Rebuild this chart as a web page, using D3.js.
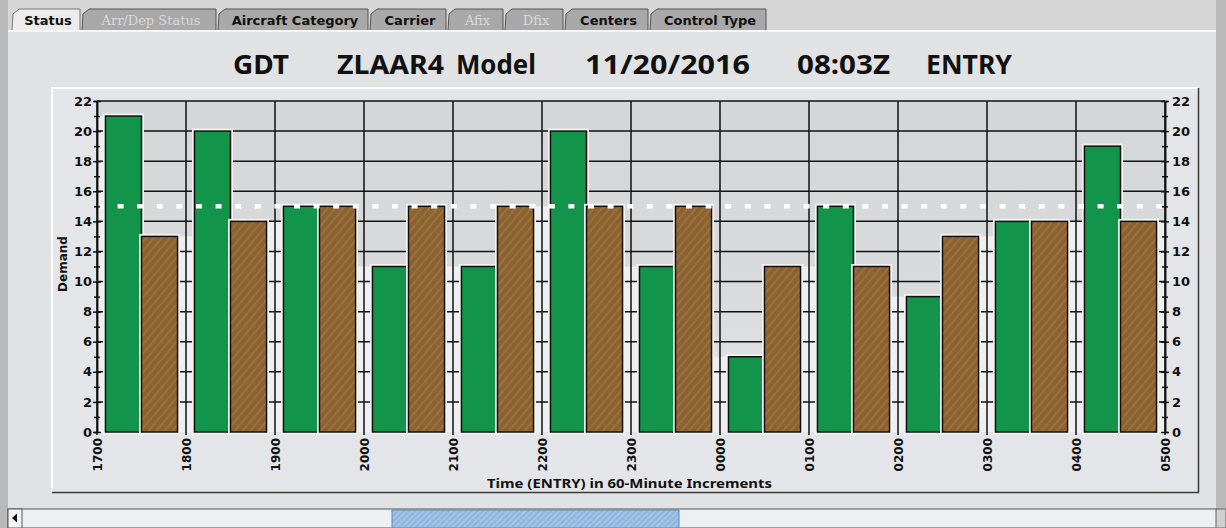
<!DOCTYPE html>
<html>
<head>
<meta charset="utf-8">
<script src="https://cdn.jsdelivr.net/npm/d3@7"></script>
<style>
  html, body { margin: 0; padding: 0; background: #c4c4c4; }
  svg { display: block; }
</style>
</head>
<body>
<div id="chart"></div>
<script>
// chart data
const hourLabels = ["1700","1800","1900","2000","2100","2200","2300","0000","0100","0200","0300","0400","0500"];
const periods = hourLabels.slice(0, 12);
const activeDemand = [21, 20, 15, 11, 11, 20, 11, 5, 15, 9, 14, 19];   // green
const proposedDemand = [13, 14, 15, 15, 15, 15, 15, 11, 11, 13, 14, 14]; // brown hatched
const capacity = 15;
const yTickValues = [0, 2, 4, 6, 8, 10, 12, 14, 16, 18, 20, 22];
const yMinorValues = [1, 3, 5, 7, 9, 11, 13, 15, 17, 19, 21];
const titleParts = ["GDT", "ZLAAR4", "Model", "11/20/2016", "08:03Z", "ENTRY"];
const tabNames = ["Status", "Arr/Dep Status", "Aircraft Category", "Carrier", "Afix", "Dfix", "Centers", "Control Type"];
const tabEnabled = [true, false, true, true, false, false, true, true];

const WIDTH = 1226, HEIGHT = 528;
const PLOT = { left: 97, right: 1165, top: 101, bottom: 432 };

let svg = d3.select("#chart").append("svg")
    .attr("width", WIDTH)
    .attr("height", HEIGHT);

const defs = svg.append("defs");
const hatch = defs.append("pattern")
    .attr("id", "hatch")
    .attr("patternUnits", "userSpaceOnUse")
    .attr("width", 6).attr("height", 6)
    .attr("patternTransform", "rotate(40)");
hatch.append("rect").attr("width", 6).attr("height", 6).attr("fill", "#8c6330");
hatch.append("rect").attr("width", 1.6).attr("height", 6).attr("fill", "#9c7442");

const thumbHatch = defs.append("pattern")
    .attr("id", "thumbHatch")
    .attr("patternUnits", "userSpaceOnUse")
    .attr("width", 4).attr("height", 4)
    .attr("patternTransform", "rotate(45)");
thumbHatch.append("rect").attr("width", 4).attr("height", 4).attr("fill", "#8fb5de");
thumbHatch.append("rect").attr("width", 1.5).attr("height", 4).attr("fill", "#a9c8ea");

const plotShade = defs.append("linearGradient")
    .attr("id", "plotShade")
    .attr("x1", 0).attr("y1", 0).attr("x2", 0).attr("y2", 1);
plotShade.append("stop").attr("offset", "0%").attr("stop-color", "#d5d6d7");
plotShade.append("stop").attr("offset", "55%").attr("stop-color", "#d9dadb");
plotShade.append("stop").attr("offset", "100%").attr("stop-color", "#e4e5e6");

// window background
svg.append("rect").attr("width", WIDTH).attr("height", HEIGHT).attr("fill", "#b9b9b9");
svg.append("rect").attr("x", 8).attr("y", 0).attr("width", 1208).attr("height", HEIGHT).attr("fill", "#d6d6d6");
svg.append("rect").attr("x", 8).attr("y", 31).attr("width", 1208).attr("height", 478).attr("fill", "#e1e2e3");
svg.append("line").attr("x1", 8).attr("x2", 1216).attr("y1", 31).attr("y2", 31)
    .attr("stroke", "#f6f6f6").attr("stroke-width", 2);

// tabs
const tabX = [12, 82, 218, 370, 448, 505, 565, 650, 768];
const tabs = svg.append("g").selectAll("g")
    .data(tabNames)
    .enter()
    .append("g");
tabs.append("path")
    .attr("d", (d, i) => {
        const x0 = tabX[i], x1 = tabX[i + 1] - 2;
        return `M${x0},30 L${x0 + 1},14 L${x0 + 7},9 L${x1},9 L${x1},30`;
    })
    .attr("fill", (d, i) => i === 0 ? "#ececec" : "#a8a8a8")
    .attr("stroke", (d, i) => i === 0 ? "#777" : "#555")
    .attr("stroke-width", 1);
tabs.append("text")
    .attr("x", (d, i) => (tabX[i] + tabX[i + 1]) / 2 + 1)
    .attr("y", 25)
    .attr("text-anchor", "middle")
    .attr("font-family", (d, i) => tabEnabled[i] ? "DejaVu Sans" : "DejaVu Serif")
    .attr("font-weight", (d, i) => tabEnabled[i] ? "bold" : "normal")
    .attr("font-size", "13px")
    .attr("fill", (d, i) => tabEnabled[i] ? "#111" : "#d9d9d9")
    .text(d => d);

// title
const titleX = [233, 337, 456, 585, 797, 926];
const titleW = [56, 107, 80, 165, 93, 86];
svg.append("g").selectAll("text")
    .data(titleParts)
    .enter()
    .append("text")
    .attr("x", (d, i) => titleX[i])
    .attr("y", 74)
    .attr("font-family", "Noto Sans, DejaVu Sans, sans-serif")
    .attr("font-weight", "bold")
    .attr("font-size", "27px")
    .attr("fill", "#111")
    .attr("textLength", (d, i) => titleW[i])
    .attr("lengthAdjust", "spacingAndGlyphs")
    .text(d => d);

// chart panel
svg.append("rect").attr("x", 52).attr("y", 88).attr("width", 1146).attr("height", 404)
    .attr("fill", "#e3e5e8");
svg.append("path").attr("d", "M52,492 L52,88 L1198,88")
    .attr("fill", "none").attr("stroke", "#fbfbfb").attr("stroke-width", 2);
svg.append("path").attr("d", "M52,492.5 L1198.5,492.5 L1198.5,88")
    .attr("fill", "none").attr("stroke", "#3a3a3a").attr("stroke-width", 1.5);

// scales
const x = d3.scalePoint().domain(hourLabels).range([PLOT.left, PLOT.right]);
const band = d3.scaleBand().domain(periods).range([PLOT.left, PLOT.right])
    .paddingInner(0.19).paddingOuter(0.095);
const sub = d3.scaleBand().domain(["active", "proposed"]).range([0, band.bandwidth()]);
const y = d3.scaleLinear().domain([0, 22]).range([PLOT.bottom, PLOT.top]);

const plot = svg.append("g");
plot.append("rect")
    .attr("x", PLOT.left).attr("y", PLOT.top)
    .attr("width", PLOT.right - PLOT.left).attr("height", PLOT.bottom - PLOT.top)
    .attr("fill", "url(#plotShade)");

// light strips between neighbouring bar groups
const gaps = hourLabels.map((h, i) => {
    const leftH = i > 0 ? proposedDemand[i - 1] : null;
    const rightH = i < periods.length ? activeDemand[i] : null;
    const x0 = i > 0 ? band(periods[i - 1]) + band.bandwidth() : PLOT.left;
    const x1 = i < periods.length ? band(periods[i]) : PLOT.right;
    const h0 = Math.min(leftH === null ? rightH : leftH, rightH === null ? leftH : rightH);
    return { x0, x1, h0 };
});
plot.selectAll("rect.gap")
    .data(gaps)
    .enter()
    .append("rect")
    .attr("class", "gap")
    .attr("x", d => d.x0)
    .attr("width", d => d.x1 - d.x0)
    .attr("y", d => y(d.h0))
    .attr("height", d => y(0) - y(d.h0))
    .attr("fill", "#eeeff0");

// grid
plot.selectAll("line.hgrid")
    .data(yTickValues.filter(v => v > 0))
    .enter()
    .append("line")
    .attr("class", "hgrid")
    .attr("x1", PLOT.left).attr("x2", PLOT.right)
    .attr("y1", d => y(d)).attr("y2", d => y(d))
    .attr("stroke", "#111").attr("stroke-width", 1.5);
plot.selectAll("line.vgrid")
    .data(hourLabels)
    .enter()
    .append("line")
    .attr("class", "vgrid")
    .attr("x1", d => x(d)).attr("x2", d => x(d))
    .attr("y1", PLOT.top).attr("y2", PLOT.bottom + 3)
    .attr("stroke", "#111").attr("stroke-width", 1.5);

// bars
const barData = [];
periods.forEach((p, i) => {
    barData.push({ period: p, key: "active", value: activeDemand[i] });
    barData.push({ period: p, key: "proposed", value: proposedDemand[i] });
});
const bars = plot.selectAll("g.bar")
    .data(barData)
    .enter()
    .append("g")
    .attr("class", "bar");
bars.append("rect")
    .attr("x", d => band(d.period) + sub(d.key))
    .attr("y", d => y(d.value))
    .attr("width", sub.bandwidth())
    .attr("height", d => y(0) - y(d.value))
    .attr("fill", "none")
    .attr("stroke", "#f3f3f3")
    .attr("stroke-width", 5);
bars.append("rect")
    .attr("x", d => band(d.period) + sub(d.key))
    .attr("y", d => y(d.value))
    .attr("width", sub.bandwidth())
    .attr("height", d => y(0) - y(d.value))
    .attr("fill", d => d.key === "active" ? "#12944a" : "url(#hatch)")
    .attr("stroke", "#111")
    .attr("stroke-width", 1.5);

// capacity line
plot.append("line")
    .attr("x1", PLOT.left).attr("x2", PLOT.right)
    .attr("y1", y(capacity)).attr("y2", y(capacity))
    .attr("stroke", "#ffffff")
    .attr("stroke-width", 4.5)
    .attr("stroke-dasharray", "6,13.6")
    .attr("stroke-dashoffset", -1);

// axes
function crossTicks(g, len) {
    g.select(".domain").attr("stroke", "#111").attr("stroke-width", 1.5);
    g.selectAll(".tick line").attr("x1", -len).attr("x2", len).attr("stroke", "#111").attr("stroke-width", 1.5);
}
const axisFont = g => g.selectAll("text")
    .attr("font-family", "DejaVu Sans")
    .attr("font-weight", "bold")
    .attr("font-size", "13px")
    .attr("fill", "#111");

svg.append("g")
    .attr("transform", `translate(${PLOT.left},0)`)
    .call(d3.axisLeft(y).tickValues(yMinorValues).tickSize(3).tickFormat(""))
    .call(g => crossTicks(g, 3));
svg.append("g")
    .attr("transform", `translate(${PLOT.left},0)`)
    .call(d3.axisLeft(y).tickValues(yTickValues).tickSize(4).tickPadding(1).tickSizeOuter(0))
    .call(g => crossTicks(g, 4))
    .call(axisFont);
svg.append("g")
    .attr("transform", `translate(${PLOT.right},0)`)
    .call(d3.axisRight(y).tickValues(yMinorValues).tickSize(3).tickFormat(""))
    .call(g => crossTicks(g, 3));
svg.append("g")
    .attr("transform", `translate(${PLOT.right},0)`)
    .call(d3.axisRight(y).tickValues(yTickValues).tickSize(4).tickPadding(3).tickSizeOuter(0))
    .call(g => crossTicks(g, 4))
    .call(axisFont);

// hour labels
svg.append("g").selectAll("text")
    .data(hourLabels)
    .enter()
    .append("text")
    .attr("transform", d => `translate(${x(d) + 1},438) rotate(-90)`)
    .attr("text-anchor", "end")
    .attr("dy", "0.36em")
    .attr("font-family", "DejaVu Sans")
    .attr("font-weight", "bold")
    .attr("font-size", "12px")
    .attr("fill", "#111")
    .text(d => d);

svg.append("text")
    .attr("transform", "translate(67,264) rotate(-90)")
    .attr("text-anchor", "middle")
    .attr("font-family", "DejaVu Sans")
    .attr("font-weight", "bold")
    .attr("font-size", "12px")
    .attr("fill", "#111")
    .text("Demand");

svg.append("text")
    .attr("x", 487).attr("y", 488)
    .attr("font-family", "Noto Sans, DejaVu Sans")
    .attr("font-weight", "bold")
    .attr("font-size", "13px")
    .attr("fill", "#111")
    .attr("textLength", 285)
    .attr("lengthAdjust", "spacingAndGlyphs")
    .text("Time (ENTRY) in 60-Minute Increments");

// scrollbar
svg.append("rect").attr("x", 8).attr("y", 509).attr("width", 1209).attr("height", 19)
    .attr("fill", "#eeeff0").attr("stroke", "#555").attr("stroke-width", 1);
svg.append("rect").attr("x", 8).attr("y", 509).attr("width", 14).attr("height", 19)
    .attr("fill", "#f4f4f4").attr("stroke", "#555").attr("stroke-width", 1);
svg.append("path").attr("d", "M12,518 L17,513.5 L17,522.5 Z").attr("fill", "#111");
svg.append("rect").attr("x", 392).attr("y", 510).attr("width", 287).attr("height", 18)
    .attr("fill", "url(#thumbHatch)").attr("stroke", "#5b87bb").attr("stroke-width", 1);
svg.append("rect").attr("x", 1216).attr("y", 509).attr("width", 10).attr("height", 19)
    .attr("fill", "#cfcfcf").attr("stroke", "#666").attr("stroke-width", 1);
</script>
</body>
</html>
